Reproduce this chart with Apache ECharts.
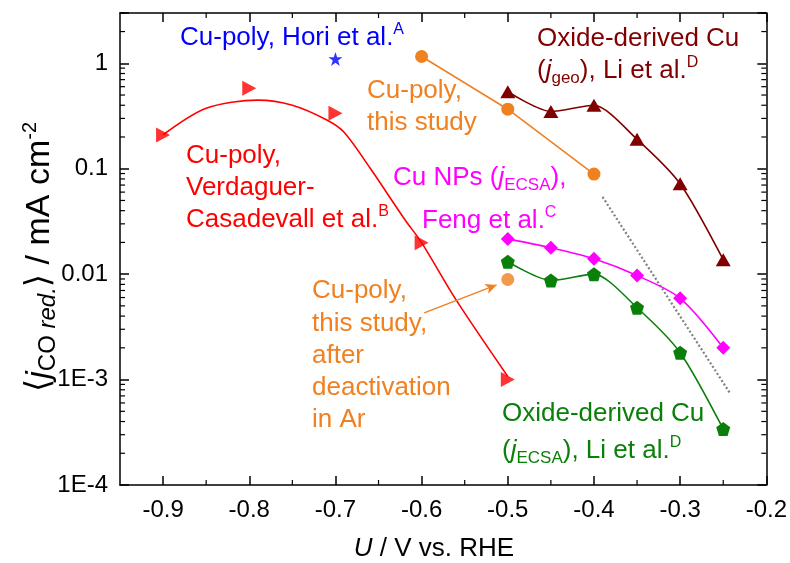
<!DOCTYPE html>
<html>
<head>
<meta charset="utf-8">
<script src="https://cdn.jsdelivr.net/npm/echarts@6/dist/echarts.min.js"></script>
<style>
html, body { margin: 0; padding: 0; background: #fff; }
#chart { width: 790px; height: 563px; }
</style>
</head>
<body>
<div id="chart"></div>
<script>
const FONT = '"Liberation Sans", Arial, "DejaVu Sans", sans-serif';

// ---- axes ----
const X_MIN = -0.95, X_MAX = -0.2;
const Y_MIN = 1e-4, Y_MAX = 3;
const xTickValues = [-0.9, -0.8, -0.7, -0.6, -0.5, -0.4, -0.3, -0.2];
const xTickLabels = ['-0.9', '-0.8', '-0.7', '-0.6', '-0.5', '-0.4', '-0.3', '-0.2'];
const xMinorValues = [-0.85, -0.75, -0.65, -0.55, -0.45, -0.35, -0.25];
const yTickValues = [1e-4, 1e-3, 0.01, 0.1, 1];
const yTickLabels = ['1E-4', '1E-3', '0.01', '0.1', '1'];
const yDecades = [1e-4, 1e-3, 1e-2, 1e-1, 1];
const yMinorSteps = [2, 3, 4, 5, 6, 7, 8, 9];

// ---- data: potential U (V vs. RHE) and partial current density (mA cm^-2) ----
// Cu-poly, Hori et al.
const horiU = [-0.7];
const horiJ = [1.1];
// Cu-poly, Verdaguer-Casadevall et al. (points and fitted curve)
const verdU = [-0.9, -0.8, -0.7, -0.6, -0.5];
const verdJ = [0.209, 0.58, 0.336, 0.0198, 0.001];
const verdFitU = [-0.9, -0.85, -0.79, -0.75, -0.71, -0.69, -0.66, -0.62, -0.6, -0.56, -0.5];
const verdFitJ = [0.21, 0.375, 0.447, 0.40, 0.29, 0.222, 0.102, 0.0334, 0.0199, 0.0057, 0.00107];
// Cu-poly, this study
const studyU = [-0.6, -0.5, -0.4];
const studyJ = [1.16, 0.367, 0.089];
// Cu-poly, this study, after deactivation in Ar
const deactU = [-0.5];
const deactJ = [0.0089];
// Oxide-derived Cu, Li et al. (geometric and ECSA-normalised)
const liU = [-0.5, -0.45, -0.4, -0.35, -0.3, -0.25];
const liGeoJ = [0.537, 0.349, 0.40, 0.19, 0.072, 0.0137];
const liEcsaJ = [0.0131, 0.0087, 0.0100, 0.0048, 0.0018, 0.00034];
// Cu NPs, Feng et al.
const fengU = [-0.5, -0.45, -0.4, -0.35, -0.3, -0.25];
const fengJ = [0.0216, 0.0178, 0.014, 0.0097, 0.0059, 0.0020];
// slope guide
const guideU = [-0.39, -0.242];
const guideJ = [0.054, 0.00074];
// arrow from the "after deactivation" note to its point
const arrowFrom = [-0.597, 0.0043];
const arrowTo = [-0.513, 0.0079];

const C_BLUE = '#0000ff', C_RED = '#ff0000', C_ORANGE = '#f08020', C_WINE = '#800000',
      C_MAGENTA = '#ff00ff', C_GREEN = '#0a800a', C_GRAY = '#808080';

const pairs = (u, j) => u.map((v, i) => [v, j[i]]);

const STAR = 'path://M50,0 L61.8,35.1 L98.9,35.1 L68.8,56.9 L80.2,92.1 L50,70.5 L19.8,92.1 L31.2,56.9 L1.1,35.1 L38.2,35.1 Z';
const PENTAGON = 'path://M50,0 L97.6,34.5 L79.4,90.5 L20.6,90.5 L2.4,34.5 Z';
const TRI_RIGHT = 'path://M0,0 L90,50 L0,100 Z';

const yMinorData = [];
yDecades.forEach(d => yMinorSteps.forEach(m => { if (d * m <= Y_MAX) yMinorData.push([X_MIN, d * m]); }));
const xMinorData = xMinorValues.map(v => [v, Y_MIN]);

const axisLine = { show: true, onZero: false, lineStyle: { color: '#000', width: 1.5 } };
const majorTick = { show: true, inside: true, length: 9, lineStyle: { color: '#000', width: 1.5 } };

function yLabel(v) {
  for (let i = 0; i < yTickValues.length; i++) {
    if (Math.abs(Math.log10(v) - Math.log10(yTickValues[i])) < 1e-6) return yTickLabels[i];
  }
  return '';
}
function xLabel(v) {
  for (let i = 0; i < xTickValues.length; i++) {
    if (Math.abs(v - xTickValues[i]) < 1e-6) return xTickLabels[i];
  }
  return '';
}

const TXT = 26;
const rich = {
  n: { fontSize: TXT, fontFamily: FONT, lineHeight: 32 },
  i: { fontSize: TXT, fontFamily: FONT, fontStyle: 'italic', lineHeight: 32 },
  sup: { fontSize: 16, fontFamily: FONT, verticalAlign: 'top', lineHeight: 18 },
  sub: { fontSize: 17, fontFamily: FONT, verticalAlign: 'bottom', lineHeight: 14 }
};
function note(x, baseline, text, color) {
  return {
    type: 'text', x: x, y: baseline - 25, silent: true, z: 50,
    style: { text: text, rich: rich, fill: color, font: TXT + 'px ' + FONT, align: 'left', verticalAlign: 'top' }
  };
}

const chart = echarts.init(document.getElementById('chart'), null, { renderer: 'canvas' });
chart.setOption({
  animation: false,
  backgroundColor: '#fff',
  grid: { left: 120, right: 23, top: 13, bottom: 78, containLabel: false },
  xAxis: [
    {
      type: 'value', min: X_MIN, max: X_MAX, position: 'bottom',
      axisLine: axisLine,
      axisTick: Object.assign({ customValues: xTickValues }, majorTick),
      axisLabel: { customValues: xTickValues, formatter: xLabel, fontSize: 24, fontFamily: FONT, color: '#000', margin: 13 },
      splitLine: { show: false }
    },
    {
      type: 'value', min: X_MIN, max: X_MAX, position: 'top',
      axisLine: axisLine,
      axisTick: Object.assign({ customValues: xTickValues }, majorTick),
      axisLabel: { show: false },
      splitLine: { show: false }
    }
  ],
  yAxis: [
    {
      type: 'log', logBase: 10, min: Y_MIN, max: Y_MAX, position: 'left',
      axisLine: axisLine, axisTick: majorTick,
      axisLabel: { formatter: yLabel, fontSize: 24, fontFamily: FONT, color: '#000', margin: 12 },
      splitLine: { show: false }
    },
    {
      type: 'log', logBase: 10, min: Y_MIN, max: Y_MAX, position: 'right',
      axisLine: axisLine, axisTick: majorTick,
      axisLabel: { show: false },
      splitLine: { show: false }
    }
  ],
  series: [
    // minor ticks on the left / right frame
    {
      type: 'custom', silent: true, clip: false, z: 5, data: yMinorData,
      renderItem: (params, api) => {
        const v = api.value(1);
        const l = api.coord([X_MIN, v]);
        const r = api.coord([X_MAX, v]);
        const st = { stroke: '#000', lineWidth: 1.2 };
        return { type: 'group', children: [
          { type: 'line', shape: { x1: l[0], y1: l[1], x2: l[0] + 5, y2: l[1] }, style: st },
          { type: 'line', shape: { x1: r[0] - 5, y1: r[1], x2: r[0], y2: r[1] }, style: st }
        ] };
      }
    },
    // minor ticks on the bottom / top frame
    {
      type: 'custom', silent: true, clip: false, z: 5, data: xMinorData,
      renderItem: (params, api) => {
        const v = api.value(0);
        const b = api.coord([v, Y_MIN]);
        const t = api.coord([v, Y_MAX]);
        const st = { stroke: '#000', lineWidth: 1.2 };
        return { type: 'group', children: [
          { type: 'line', shape: { x1: b[0], y1: b[1], x2: b[0], y2: b[1] - 5 }, style: st },
          { type: 'line', shape: { x1: t[0], y1: t[1], x2: t[0], y2: t[1] + 5 }, style: st }
        ] };
      }
    },
    {
      name: 'guide', type: 'line', data: pairs(guideU, guideJ), symbol: 'none',
      lineStyle: { color: C_GRAY, width: 2.2, type: [2, 2.2] }, z: 2
    },
    {
      name: 'Verdaguer fit', type: 'line', data: pairs(verdFitU, verdFitJ), symbol: 'none', smooth: 0.3,
      lineStyle: { color: C_RED, width: 1.6 }, z: 3
    },
    {
      name: 'Verdaguer', type: 'scatter', data: pairs(verdU, verdJ), symbol: TRI_RIGHT, symbolSize: [14, 15],
      itemStyle: { color: C_RED }, z: 4
    },
    {
      name: 'Hori', type: 'scatter', data: pairs(horiU, horiJ), symbol: STAR, symbolSize: 14,
      itemStyle: { color: C_BLUE }, z: 4
    },
    {
      name: 'this study', type: 'line', data: pairs(studyU, studyJ), symbol: 'circle', symbolSize: 13,
      lineStyle: { color: C_ORANGE, width: 1.6 }, itemStyle: { color: C_ORANGE }, z: 4
    },
    {
      name: 'after deactivation', type: 'scatter', data: pairs(deactU, deactJ), symbol: 'circle', symbolSize: 13,
      itemStyle: { color: C_ORANGE }, z: 4,
      markLine: {
        silent: true, symbol: ['none', 'arrow'], symbolSize: [8, 11], label: { show: false },
        lineStyle: { color: C_ORANGE, width: 1.4, type: 'solid' },
        data: [[{ coord: arrowFrom }, { coord: arrowTo }]]
      }
    },
    {
      name: 'Li geo', type: 'line', data: pairs(liU, liGeoJ), symbol: 'triangle', symbolSize: [15, 13], smooth: 0.25,
      lineStyle: { color: C_WINE, width: 1.6 }, itemStyle: { color: C_WINE }, z: 4
    },
    {
      name: 'Feng', type: 'line', data: pairs(fengU, fengJ), symbol: 'diamond', symbolSize: 14, smooth: 0.3,
      lineStyle: { color: C_MAGENTA, width: 1.6 }, itemStyle: { color: C_MAGENTA }, z: 4
    },
    {
      name: 'Li ECSA', type: 'line', data: pairs(liU, liEcsaJ), symbol: PENTAGON, symbolSize: 14, smooth: 0.25,
      lineStyle: { color: C_GREEN, width: 1.6 }, itemStyle: { color: C_GREEN }, z: 4
    }
  ],
  graphic: [
    note(180, 47, '{n|Cu-poly, Hori et al.}{sup|A}', C_BLUE),
    note(537, 48, '{n|Oxide-derived Cu}', C_WINE),
    note(537, 80, '{n|(}{i|j}{sub|geo}{n|), Li et al.}{sup|D}', C_WINE),
    note(367, 100, '{n|Cu-poly,}', C_ORANGE),
    note(367, 132, '{n|this study}', C_ORANGE),
    note(186, 165, '{n|Cu-poly,}', C_RED),
    note(186, 197, '{n|Verdaguer-}', C_RED),
    note(186, 229, '{n|Casadevall et al.}{sup|B}', C_RED),
    note(393, 187, '{n|Cu NPs (}{i|j}{sub|ECSA}{n|),}', C_MAGENTA),
    note(422, 230, '{n|Feng et al.}{sup|C}', C_MAGENTA),
    note(312, 300, '{n|Cu-poly,}', C_ORANGE),
    note(312, 333, '{n|this study,}', C_ORANGE),
    note(312, 365, '{n|after}', C_ORANGE),
    note(312, 397, '{n|deactivation}', C_ORANGE),
    note(312, 429, '{n|in Ar}', C_ORANGE),
    note(502, 423, '{n|Oxide-derived Cu}', C_GREEN),
    note(502, 460, '{n|(}{i|j}{sub|ECSA}{n|), Li et al.}{sup|D}', C_GREEN),
    {
      type: 'text', x: 434, y: 549, silent: true,
      style: {
        text: '{i|U}{n| / V vs. RHE}', fill: '#000', align: 'center', verticalAlign: 'middle',
        rich: { i: { fontSize: 26, fontFamily: FONT, fontStyle: 'italic' }, n: { fontSize: 26, fontFamily: FONT } }
      }
    },
    {
      type: 'text', x: 40, y: 257, rotation: Math.PI / 2, silent: true,
      style: {
        text: '{n|\u27E8}{i|j}{sub|CO }{subi|red.}{n|\u27E9 / mA cm}{sup|-2}', fill: '#000', align: 'center', verticalAlign: 'middle',
        rich: {
          n: { fontSize: 34, fontFamily: FONT, lineHeight: 40 },
          i: { fontSize: 34, fontFamily: FONT, fontStyle: 'italic', lineHeight: 40 },
          sub: { fontSize: 24, fontFamily: FONT, verticalAlign: 'bottom', lineHeight: 20 },
          subi: { fontSize: 24, fontFamily: FONT, fontStyle: 'italic', verticalAlign: 'bottom', lineHeight: 20 },
          sup: { fontSize: 20, fontFamily: FONT, verticalAlign: 'top', lineHeight: 22 }
        }
      }
    }
  ]
});
</script>
</body>
</html>
